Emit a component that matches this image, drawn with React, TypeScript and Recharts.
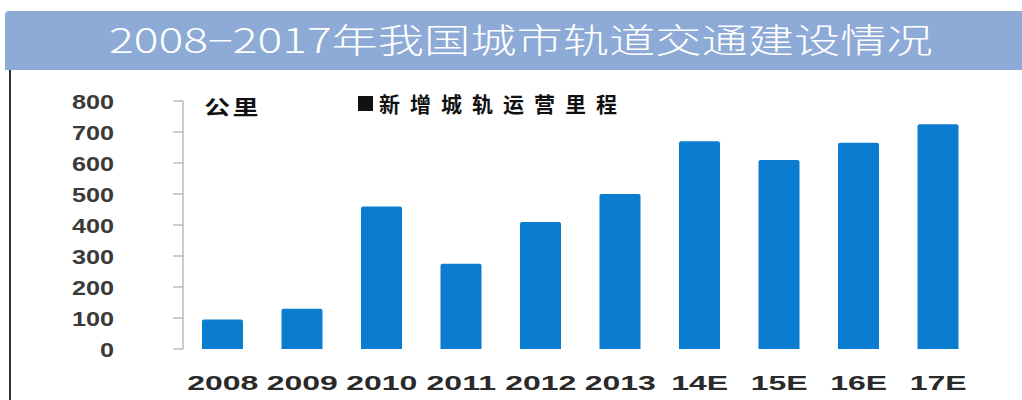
import React from 'react';
import { BarChart, Bar, XAxis, YAxis } from 'recharts';

const years = ['2008', '2009', '2010', '2011', '2012', '2013', '14E', '15E', '16E', '17E'];
const newMileage = [95, 130, 460, 275, 410, 500, 670, 610, 665, 725];
const yTicks = [0, 100, 200, 300, 400, 500, 600, 700, 800];
const boundaryTicks = [0, 1, 2, 3, 4, 5, 6, 7, 8, 9, 10];
const seriesName = '新增城轨运营里程';

const data = years.map((year, i) => ({ year, mileage: newMileage[i] }));

const tickFont = '"Liberation Sans", Arial, sans-serif';

const YTick = (props: any) => {
  const { x, y, payload } = props;
  return (
    <text
      transform={`translate(${x - 57},${y + 8}) scale(1.2,1)`}
      textAnchor="end"
      fontFamily={tickFont}
      fontWeight="bold"
      fontSize={21}
      fill="#3a3a3a"
    >
      {payload.value}
    </text>
  );
};

const XTick = (props: any) => {
  const { x, y, payload } = props;
  return (
    <text
      transform={`translate(${x},${y + 33}) scale(1.6,1)`}
      textAnchor="middle"
      fontFamily={tickFont}
      fontWeight="bold"
      fontSize={20}
      fill="#2a2a2a"
    >
      {payload.value}
    </text>
  );
};

export default function App() {
  return (
    <div style={{ position: 'absolute', left: 0, top: 0, width: 1022, height: 400, background: '#fff', overflow: 'hidden' }}>
      <div
        style={{
          position: 'absolute',
          left: 5,
          top: 11,
          width: 1017,
          height: 59,
          background: '#8eaad6',
          borderRadius: '4px 0 0 0',
          display: 'flex',
          alignItems: 'center',
          justifyContent: 'center',
        }}
      >
        <span
          style={{
            display: 'inline-block',
            color: '#fff',
            fontFamily: '"Noto Sans CJK SC", sans-serif',
            fontSize: 34,
            fontWeight: 300,
            transform: 'scaleX(1.36)',
            marginLeft: 14,
            marginTop: -4,
            lineHeight: '40px',
          }}
        >
          2008−2017年我国城市轨道交通建设情况
        </span>
      </div>
      <div style={{ position: 'absolute', left: 9, top: 70, width: 2, height: 330, background: '#333' }} />
      <div
        style={{
          position: 'absolute',
          left: 204,
          top: 92,
          fontFamily: '"Noto Sans CJK SC", sans-serif',
          fontWeight: 700,
          fontSize: 20,
          color: '#111',
          transform: 'scaleX(1.3)',
          transformOrigin: 'left center',
          letterSpacing: 2,
        }}
      >
        公里
      </div>
      <div
        style={{
          position: 'absolute',
          left: 358,
          top: 92,
          display: 'flex',
          alignItems: 'center',
          fontFamily: '"Noto Sans CJK SC", sans-serif',
        }}
      >
        <span style={{ display: 'inline-block', width: 15, height: 15, background: '#111', marginRight: 6 }} />
        <span style={{ fontSize: 21, fontWeight: 700, letterSpacing: 10, color: '#111', lineHeight: '22px' }}>
          {seriesName}
        </span>
      </div>
      <div style={{ position: 'absolute', left: 0, top: 0 }}>
        <BarChart width={1022} height={400} data={data} margin={{ top: 101, right: 44, bottom: 0, left: 0 }}>
          <XAxis
            xAxisId="bounds"
            type="number"
            domain={[0, 10]}
            ticks={boundaryTicks}
            allowDataOverflow
            height={0}
            axisLine={{ stroke: '#9a9a9a' }}
            tickLine={{ stroke: '#9a9a9a' }}
            tickSize={6}
            tick={() => <g />}
          />
          <XAxis
            dataKey="year"
            height={51}
            axisLine={false}
            tickLine={false}
            interval={0}
            tick={<XTick />}
          />
          <YAxis
            domain={[0, 800]}
            ticks={yTicks}
            width={183}
            axisLine={{ stroke: '#9a9a9a' }}
            tickLine={{ stroke: '#9a9a9a' }}
            tickSize={10}
            tick={<YTick />}
          />
          <Bar
            dataKey="mileage"
            name={seriesName}
            fill="#0a7dd0"
            barSize={41}
            radius={[2, 2, 0, 0]}
            isAnimationActive={false}
          />
        </BarChart>
      </div>
    </div>
  );
}
